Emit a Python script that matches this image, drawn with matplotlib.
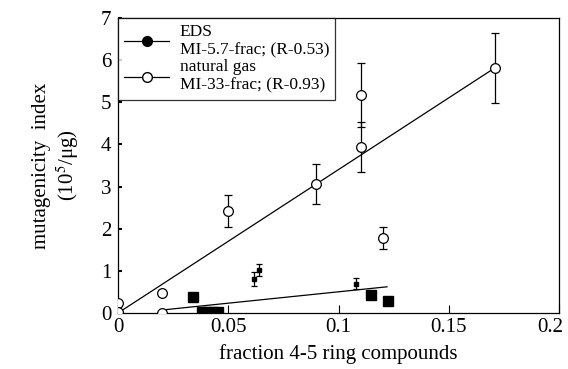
import numpy as np
import matplotlib.pyplot as plt
import matplotlib.transforms as mtransforms
from matplotlib.lines import Line2D

plt.rcParams['font.family'] = ['Liberation Serif', 'DejaVu Serif']
plt.rcParams['mathtext.fontset'] = 'stix'

# natural gas (open circles)
ng_x = [0, 0, 0.02, 0.02, 0.05, 0.09, 0.11, 0.11, 0.12, 0.171]
ng_y = [0.24, 0.03, 0.47, 0.0, 2.42, 3.06, 5.18, 3.94, 1.78, 5.82]
ng_err = [0, 0, 0, 0, 0.37, 0.47, 0.76, 0.6, 0.27, 0.83]
ng_fit_x = [0, 0.171]
ng_fit_y = [0.0, 5.82]

# EDS big squares (no error bars)
eds_x = [0.034, 0.038, 0.0405, 0.043, 0.0455, 0.1148, 0.1225]
eds_y = [0.38, 0.02, 0.02, 0.02, 0.02, 0.43, 0.29]
# EDS small squares with error bars
eds2_x = [0.0615, 0.064, 0.108]
eds2_y = [0.81, 1.02, 0.69]
eds2_err = [0.17, 0.15, 0.13]
eds_fit_x = [0.022, 0.122]
eds_fit_y = [0.08, 0.62]

labels = ['EDS\nMI-5.7-frac; (R-0.53)', 'natural gas\nMI-33-frac; (R-0.93)']

fig = plt.figure(figsize=(5.68, 3.69), dpi=100)
ax = fig.add_axes([0.208, 0.152, 0.776, 0.799])

ax.plot(ng_fit_x, ng_fit_y, color='black', lw=0.9)
ax.plot(eds_fit_x, eds_fit_y, color='black', lw=0.9)

ax.errorbar(ng_x, ng_y, yerr=ng_err, fmt='o', mfc='white', mec='black', mew=0.9,
            ms=7, ecolor='black', elinewidth=0.9, capsize=3, capthick=0.9, zorder=3)
ax.plot(eds_x, eds_y, 's', color='black', ms=6.5, zorder=3)
ax.errorbar(eds2_x, eds2_y, yerr=eds2_err, fmt='s', color='black', ms=3.5,
            elinewidth=0.9, capsize=2.5, capthick=0.9, zorder=3)

ax.set_xlim(0, 0.2)
ax.set_ylim(0, 7)
ax.set_xticks([0, 0.05, 0.1, 0.15, 0.2])
ax.set_xticklabels(['0', '0.05', '0.1', '0.15', '0.2'])
ax.set_yticks(range(8))
ax.tick_params(axis='x', direction='in', length=6, width=0.8, labelsize=15, pad=4)
ax.tick_params(axis='y', direction='in', length=3, width=1.5, labelsize=15, pad=5)
for s in ax.spines.values():
    s.set_linewidth(0.9)

# last x label sits a little left so it stays inside the figure
last = ax.get_xticklabels()[-1]
last.set_transform(last.get_transform() + mtransforms.ScaledTranslation(-9 / 100, 0, fig.dpi_scale_trans))

ax.set_xlabel('fraction 4-5 ring compounds', fontsize=15, labelpad=5)
ax.set_ylabel('mutagenicity  index\n(10$^5$/μg)', fontsize=15, labelpad=14)

handles = [
    Line2D([], [], color='black', lw=0.9, marker='o', ms=7, mfc='black', mec='black'),
    Line2D([], [], color='black', lw=0.9, marker='o', ms=7, mfc='white', mec='black'),
]
leg = ax.legend(handles, labels, loc='upper left', bbox_to_anchor=(0, 1.0),
                fontsize=12.5, frameon=True, fancybox=False, edgecolor='black',
                borderaxespad=0, handlelength=2.6, labelspacing=0.05,
                handletextpad=0.6, borderpad=0.35)
leg.get_frame().set_linewidth(0.9)

fig.savefig('out.png', dpi=100)
